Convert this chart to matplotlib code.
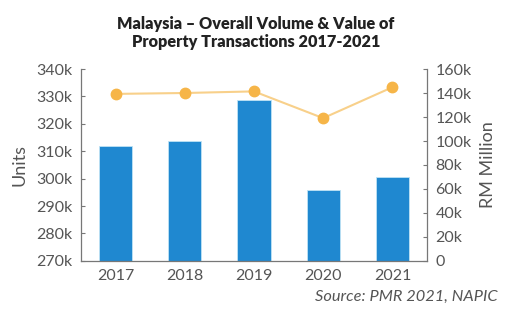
import matplotlib.pyplot as plt

years = ['2017', '2018', '2019', '2020', '2021']
units = [311998, 313710, 328647, 295968, 300497]
value_rm = [139310, 140050, 141400, 119080, 144870]

left_ticks = [270000, 280000, 290000, 300000, 310000, 320000, 330000, 340000]
left_labels = ['270k', '280k', '290k', '300k', '310k', '320k', '330k', '340k']
right_ticks = [0, 20000, 40000, 60000, 80000, 100000, 120000, 140000, 160000]
right_labels = ['0', '20k', '40k', '60k', '80k', '100k', '120k', '140k', '160k']

plt.rcParams['font.family'] = ['Lato', 'DejaVu Sans']
grey = '#555555'
spine_c = '#777777'

fig = plt.figure(figsize=(5.12, 3.29), dpi=100)
ax = fig.add_axes([0.158, 0.207, 0.676, 0.583])

x = range(len(years))
ax.bar(x, [u - 270000 for u in units], bottom=270000, width=0.48,
       color='#1F88D0', edgecolor='#BFE3F5', linewidth=0.6, zorder=2)
ax.set_ylim(270000, 340000)
ax.set_xlim(-0.5, 4.5)
ax.set_yticks(left_ticks)
ax.set_yticklabels(left_labels)
ax.set_xticks(list(x))
ax.set_xticklabels(years)
ax.set_ylabel('Units', fontsize=13, color=grey, labelpad=6)

ax2 = ax.twinx()
ax2.plot(x, value_rm, color='#F8D08A', linewidth=1.5, marker='o',
         markersize=7.5, markerfacecolor='#F6B548', markeredgecolor='#F6B548', zorder=3)
ax2.set_ylim(0, 160000)
ax2.set_yticks(right_ticks)
ax2.set_yticklabels(right_labels)
ax2.set_ylabel('RM Million', fontsize=13, color=grey, labelpad=6)

for a in (ax, ax2):
    a.spines['top'].set_visible(False)
    for s in ('left', 'right', 'bottom'):
        a.spines[s].set_color(spine_c)
        a.spines[s].set_linewidth(0.9)
    a.tick_params(axis='y', direction='in', length=3, color=spine_c,
                  labelsize=11.5, labelcolor=grey, pad=6)
    a.tick_params(axis='x', length=0, labelsize=11.5, labelcolor=grey, pad=6)
ax.spines['right'].set_visible(False)
ax2.spines['left'].set_visible(False)
ax2.spines['bottom'].set_visible(False)

fig.text(0.5, 0.9, 'Malaysia \u2013 Overall Volume & Value of\nProperty Transactions 2017-2021',
         ha='center', va='center', fontsize=11.7, fontweight='heavy', color='#222222',
         linespacing=1.2)
fig.text(0.972, 0.097, 'Source: PMR 2021, NAPIC', ha='right', va='center',
         fontsize=11.8, style='italic', color=grey)

fig.savefig('out.png', dpi=100)
